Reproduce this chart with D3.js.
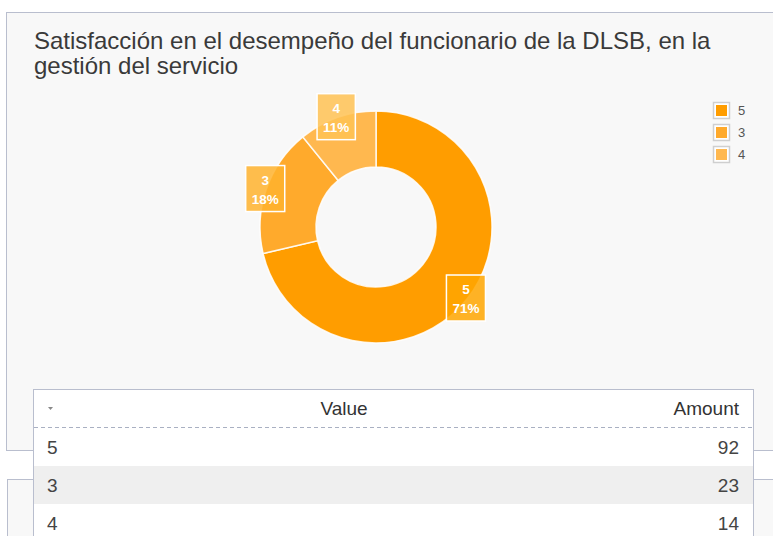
<!DOCTYPE html>
<html><head><meta charset="utf-8">
<script src="https://cdn.jsdelivr.net/npm/d3@7"></script>
<style>
html,body{margin:0;padding:0;background:#fff;}
svg{display:block;font-family:"Liberation Sans",Arial,sans-serif;}
</style></head>
<body><svg id="c" width="773" height="536"></svg>
<script>
const titleLines = ["Satisfacción en el desempeño del funcionario de la DLSB, en la", "gestión del servicio"];
const categories = ["5", "3", "4"];
const amounts = [92, 23, 14];
const sliceColors = ["#ff9d00", "#ffaa2c", "#ffb84f"];
const tableHeaders = ["Value", "Amount"];

const svg = d3.select("#c");

// panels
svg.append("rect").attr("x", 6.5).attr("y", 12.5).attr("width", 800).attr("height", 438)
  .attr("fill", "#f8f8f8").attr("stroke", "#b9bece").attr("stroke-width", 1);
svg.append("rect").attr("x", 7.5).attr("y", 479.5).attr("width", 800).attr("height", 100)
  .attr("fill", "#f8f8f8").attr("stroke", "#b9bece").attr("stroke-width", 1);

// title
svg.append("g").selectAll("text").data(titleLines).join("text")
  .attr("x", 34).attr("y", (d, i) => 49 + i * 24.5)
  .attr("font-size", 24).attr("fill", "#3a3a3a").text(d => d);

// donut
const cx = 376, cy = 227, rOuter = 116, rInner = 60;
const color = d3.scaleOrdinal().domain(categories).range(sliceColors);
const data = categories.map((c, i) => ({cat: c, val: amounts[i]}));
const total = d3.sum(amounts);
const pie = d3.pie().value(d => d.val).sort(null);
const arcs = pie(data);
const arc = d3.arc().innerRadius(rInner).outerRadius(rOuter);
const g = svg.append("g").attr("transform", `translate(${cx},${cy})`);
g.selectAll("path").data(arcs).join("path")
  .attr("d", arc).attr("fill", d => color(d.data.cat))
  .attr("stroke", "rgba(255,255,255,0.85)").attr("stroke-width", 1.5);

// labels
const labelArc = d3.arc().innerRadius(rOuter).outerRadius(rOuter);
const lg = g.selectAll("g.lbl").data(arcs).join("g").attr("class", "lbl")
  .attr("transform", d => { const p = labelArc.centroid(d); return `translate(${p[0]-1},${p[1]-1})`; });
lg.append("rect").attr("class", "box");
lg.append("text").attr("text-anchor", "middle").attr("y", -4)
  .attr("font-size", 13.5).attr("font-weight", "bold").attr("fill", "#fff")
  .text(d => d.data.cat);
lg.append("text").attr("text-anchor", "middle").attr("y", 15)
  .attr("font-size", 13.5).attr("font-weight", "bold").attr("fill", "#fff")
  .text(d => Math.round(d.data.val / total * 100) + "%");
lg.each(function(d) {
  const sel = d3.select(this);
  let w = 0;
  sel.selectAll("text").each(function() { w = Math.max(w, this.getComputedTextLength()); });
  w = Math.max(w + 12, 38);
  sel.select("rect.box").attr("x", -w / 2).attr("y", -23).attr("width", w).attr("height", 46)
    .attr("fill", d3.color(color(d.data.cat)).brighter(0.15)).attr("fill-opacity", 0.85)
    .attr("stroke", "#fff").attr("stroke-width", 1.5);
});

// legend
const leg = svg.append("g").selectAll("g").data(categories).join("g")
  .attr("transform", (d, i) => `translate(713,${102 + i * 22})`);
leg.append("rect").attr("x", 0.5).attr("y", 0.5).attr("width", 16).attr("height", 16)
  .attr("fill", "#fff").attr("stroke", "#cfcfcf").attr("stroke-width", 1.5);
leg.append("rect").attr("x", 3).attr("y", 3).attr("width", 11).attr("height", 11)
  .attr("fill", d => color(d));
leg.append("text").attr("x", 25).attr("y", 13).attr("font-size", 13).attr("fill", "#555").text(d => d);

// table
const tx = 33, tw = 720, ty = 389, headH = 39, rowH = 38;
const t = svg.append("g");
t.append("rect").attr("x", tx + 0.5).attr("y", ty + 0.5).attr("width", tw).attr("height", 200)
  .attr("fill", "#fff").attr("stroke", "#b9bece");
const rowY = d3.scaleBand().domain(categories).range([ty + headH, ty + headH + rowH * categories.length]);
t.selectAll("rect.row").data(categories).join("rect").attr("class", "row")
  .attr("x", tx + 1).attr("y", d => rowY(d)).attr("width", tw - 1).attr("height", rowY.bandwidth())
  .attr("fill", (d, i) => i % 2 === 1 ? "#efefef" : "#fff");
t.append("line").attr("x1", tx + 1).attr("x2", tx + tw).attr("y1", ty + headH - 0.5).attr("y2", ty + headH - 0.5)
  .attr("stroke", "#a9b0c2").attr("stroke-dasharray", "4,3");
t.append("path").attr("d", `M${tx+15},${ty+18}l5,0l-2.5,3z`).attr("fill", "#888");
t.append("text").attr("x", 344).attr("y", ty + 26).attr("text-anchor", "middle")
  .attr("font-size", 19).attr("fill", "#333").text(tableHeaders[0]);
t.append("text").attr("x", 739).attr("y", ty + 26).attr("text-anchor", "end")
  .attr("font-size", 19).attr("fill", "#333").text(tableHeaders[1]);
t.selectAll("text.c").data(categories).join("text").attr("class", "c")
  .attr("x", 47).attr("y", d => rowY(d) + 26).attr("font-size", 19).attr("fill", "#444").text(d => d);
t.selectAll("text.a").data(amounts).join("text").attr("class", "a")
  .attr("x", 739).attr("y", (d, i) => rowY(categories[i]) + 26).attr("text-anchor", "end")
  .attr("font-size", 19).attr("fill", "#444").text(d => d);
</script></body></html>
